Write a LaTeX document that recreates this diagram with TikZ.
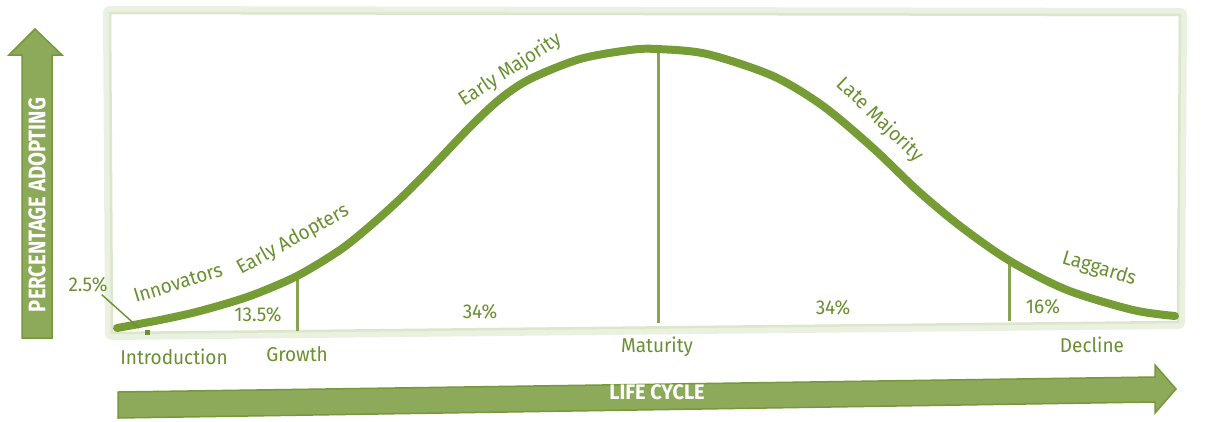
\documentclass[tikz,border=0pt]{standalone}
\usepackage{fontspec}
\setmainfont{Liberation Sans}
\newfontfamily\lblfont[FakeStretch=0.95]{Fira Sans}
\newfontfamily\condbold[FakeStretch=0.84]{Fira Sans}
\newfontfamily\widebold[FakeStretch=0.95]{Fira Sans}
\usetikzlibrary{calc}
\definecolor{txtgreen}{HTML}{6A9030}
\definecolor{curvegreen}{HTML}{769C36}
\definecolor{linegreen}{HTML}{86A452}
\definecolor{arrowfill}{HTML}{8DAA5A}
\definecolor{arrowedge}{HTML}{779839}
\definecolor{glow}{HTML}{EBF1E0}
\definecolor{glowin}{HTML}{DCE6CA}
\tikzset{
  lbl/.style={text=txtgreen, font=\lblfont\fontsize{20}{24}\selectfont, inner sep=0pt},
  biglbl/.style={text=white, font=\condbold\bfseries\fontsize{#1}{#1}\selectfont, inner sep=0pt},
  widelbl/.style={text=white, font=\widebold\bfseries\fontsize{#1}{#1}\selectfont, inner sep=0pt},
  divider/.style={draw=linegreen, line width=3pt},
  bigarrow/.style={fill=arrowfill, draw=arrowedge, line width=1.5pt, line join=miter},
  curve/.style={draw=curvegreen, line width=8pt, line cap=round, line join=round},
}
\begin{document}
\begin{tikzpicture}[x=1pt, y=-1pt]
\useasboundingbox (0,0) rectangle (1213,421);
\fill[white] (0,0) rectangle (1213,421);

% panel with soft glow
\draw[glow, line width=14pt, line join=round] (110,13) -- (1180,15) -- (1178,322) -- (112,333) -- cycle;
\draw[glowin, line width=2.5pt, fill=white] (110,13) -- (1180,15) -- (1178,322) -- (112,333) -- cycle;

% vertical arrow
\draw[bigarrow] (22,338) -- (22,55) -- (9,55) -- (35,29) -- (62,55) -- (52,55) -- (52,338) -- cycle;
\node[biglbl=24, rotate=90] (yaxis) at (37,205) {PERCENTAGE ADOPTING};

% horizontal arrow
\draw[bigarrow] (118,392) -- (1155,377) -- (1155,365) -- (1176,389) -- (1155,413) -- (1155,402) -- (118,418) -- cycle;
\node[widelbl=21] (xaxis) at (657,392) {LIFE CYCLE};

% dividers
\coordinate (g1) at (297,277); \coordinate (g2) at (297,331);
\coordinate (m1) at (658,52);  \coordinate (m2) at (658,323);
\coordinate (d1) at (1009,263); \coordinate (d2) at (1009,321);
\draw[divider] (g1) -- (g2);
\draw[divider] (m1) -- (m2);
\draw[divider] (d1) -- (d2);

% adoption curve
\draw[curve] plot[smooth, tension=0.5] coordinates {
 (117,328) (160,320) (200,311) (250,296) (297,276) (340,250) (370,226)
 (400,199) (430,169) (470,127) (500,99) (530,79) (580,59) (630,50) (657,49)
 (707,54) (773,76) (823,106) (873,148) (917,190) (960,226) (1010,261)
 (1067,290) (1133,310) (1175,316)};

% 2.5% pointer
\node[lbl] (p25) at (88,285) {2.5\%};
\coordinate (innov) at (139,328);
\draw[txtgreen, line width=1.4pt] (p25.south east) ++(-6,2) -- (innov);
\fill[txtgreen] (145,330) rectangle (150,335);

% curve labels
\node[lbl, rotate=17] (innovators) at (178,283) {Innovators};
\node[lbl, rotate=29] (earlyad) at (293,240) {Early Adopters};
\node[lbl, rotate=33] (earlymaj) at (510,70) {Early Majority};
\node[lbl, rotate=-44] (latemaj) at (880,120) {Late Majority};
\node[lbl, rotate=-17] (laggards) at (1099,269) {Laggards};

% percentages
\node[lbl] (p135) at (258,315) {13.5\%};
\node[lbl] (p34a) at (480,312) {34\%};
\node[lbl] (p34b) at (833,308) {34\%};
\node[lbl] (p16) at (1043,307) {16\%};

% stages
\node[lbl] (intro) at (174,357) {Introduction};
\node[lbl] (growth) at (297,354) {Growth};
\node[lbl] (maturity) at (657,347) {Maturity};
\node[lbl] (decline) at (1092,345) {Decline};
\end{tikzpicture}
\end{document}
